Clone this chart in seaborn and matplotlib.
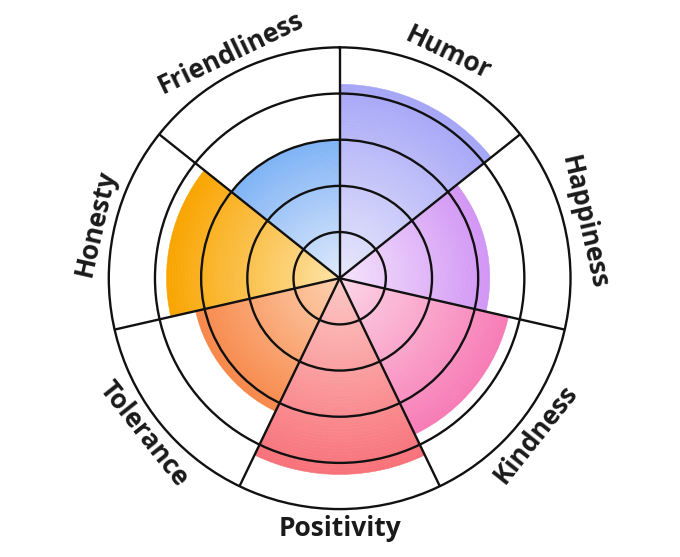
import numpy as np
import matplotlib.pyplot as plt
import seaborn as sns

# Wheel data (clockwise from 12 o'clock), scores out of 5
categories = ["Humor", "Happiness", "Kindness", "Positivity",
              "Tolerance", "Honesty", "Friendliness"]
scores = [4.2, 3.25, 3.75, 4.25, 3.2, 3.75, 3.0]
inner_colors = ["#e8e8fc", "#f5e4fc", "#fcd6e6", "#fcc8c4",
                "#fdd0ae", "#fde3a6", "#dfeafc"]
outer_colors = ["#a6a6f7", "#d296f5", "#f77cb6", "#f8727a",
                "#f7884a", "#f9a500", "#7fb3f5"]
max_score = 5
rings = [1, 2, 3, 4]

sns.set_theme(style="white")
plt.rcParams["font.family"] = ["Open Sans", "DejaVu Sans"]

fig = plt.figure(figsize=(6.8, 5.57), dpi=100)
ax = fig.add_axes([0.160, 0.086, 0.679, 0.829], projection="polar")
ax.set_theta_zero_location("N")
ax.set_theta_direction(-1)

n = len(categories)
width = 2 * np.pi / n
centers = np.arange(n) * width + width / 2
steps = 60

# gradient wedges: stack thin bars from light to saturated
for theta, val, c0, c1 in zip(centers, scores, inner_colors, outer_colors):
    pal = sns.blend_palette([c0, c1], n_colors=steps)
    h = val / steps
    ax.bar([theta] * steps, [h] * steps, width=width,
           bottom=np.arange(steps) * h, color=pal, edgecolor=pal,
           linewidth=0.4, align="center", zorder=1)

ax.set_ylim(0, max_score)
ax.set_rticks(rings)
ax.set_yticklabels([])
ax.set_xticks(np.arange(n) * width)
ax.set_xticklabels([])
ax.set_axisbelow(False)
ax.grid(True, color="#111111", linewidth=1.7)
ax.spines["polar"].set_color("#111111")
ax.spines["polar"].set_linewidth(1.7)

# curved-looking labels: rotate tangent to the circle
for theta, label in zip(centers, categories):
    a = 90 - np.degrees(theta)
    a = (a + 180) % 360 - 180
    rot = a - 90 if a > 0 else a + 90
    ax.text(theta, 5.42, label, rotation=rot, rotation_mode="anchor",
            ha="center", va="center", fontsize=19, fontweight="bold",
            color="#1a1a1a")

fig.savefig("out.png", dpi=100, facecolor="white")
